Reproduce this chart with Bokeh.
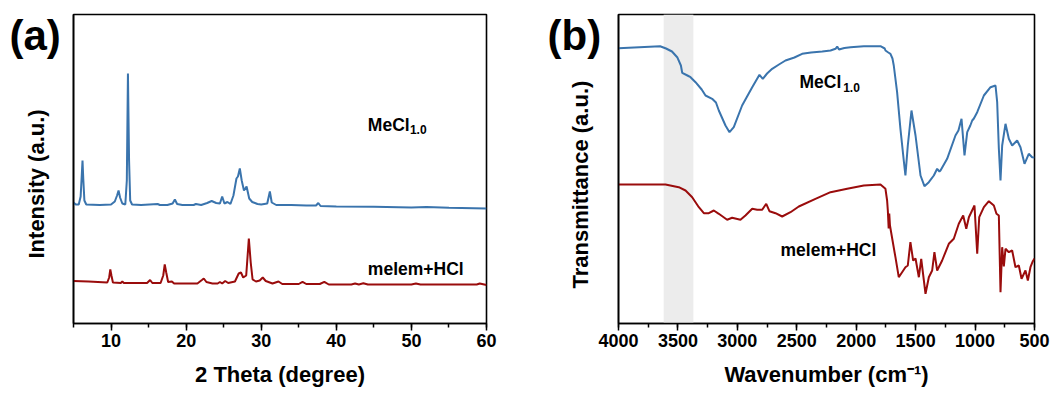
from bokeh.plotting import figure
from bokeh.models import (Range1d, Label, BoxAnnotation, SingleIntervalTicker, FixedTicker, Title)
from bokeh.layouts import row
from bokeh.embed import file_html
from bokeh.resources import INLINE

# ---------------- XRD data (a) ----------------
xrd_mecl_2theta = [5.0, 5.3, 5.7, 5.95, 6.1, 6.2, 6.3, 6.45, 6.7, 8.5, 10.0, 10.5, 10.8, 11.0, 11.2, 11.5,
                   11.9, 12.1, 12.25, 12.4, 12.55, 12.8, 14.0, 16.2, 16.5, 17.5, 18.2, 18.5, 18.8, 19.5,
                   21.0, 21.3, 22.0, 22.8, 23.4, 24.0, 24.5, 24.8, 25.1, 25.5, 25.9, 26.3, 26.7, 26.9,
                   27.15, 27.4, 27.7, 28.05, 28.4, 28.8, 29.5, 30.0, 30.8, 31.15, 31.4, 32.0, 34.0, 36.0,
                   37.3, 37.6, 37.9, 40.0, 45.0, 50.0, 52.0, 55.0, 60.0]
xrd_mecl_int = [121, 119, 119, 127, 148, 163, 145, 123, 119, 118.5, 119, 122, 128, 133, 126, 120,
                119, 143, 250, 163, 123, 119, 118.5, 119.5, 118.5, 118.5, 120, 124, 119.5, 118.5,
                118.5, 119.5, 118.5, 120.5, 122.5, 120.5, 120, 127, 120, 121.5, 119.5, 128, 145, 147,
                155, 143, 133, 137, 125, 121.5, 119.5, 119, 120, 132, 121, 118.5, 118.5, 118,
                118, 120.5, 117.5, 117, 116.7, 116, 116.5, 115.7, 115]

xrd_melem_2theta = [5.0, 7.0, 9.5, 9.75, 9.9, 10.05, 10.25, 11.3, 11.5, 11.7, 14.8, 15.2, 15.5, 16.6,
                    16.95, 17.15, 17.35, 17.6, 18.1, 18.4, 21.5, 22.1, 22.35, 22.7, 23.5, 24.2, 24.5,
                    24.8, 25.2, 25.6, 26.5, 27.0, 27.3, 27.6, 28.0, 28.35, 28.6, 28.85, 29.3, 29.8,
                    30.2, 30.6, 31.5, 32.3, 32.8, 35.0, 35.5, 36.0, 37.8, 38.4, 39.0, 42.0, 42.5, 43.0,
                    43.6, 44.2, 50.0, 50.6, 51.2, 58.7, 59.1, 60.0]
xrd_melem_int = [42.5, 42, 41, 46, 54, 48, 41, 40.5, 42, 40.5, 40.5, 43.5, 40.5, 40.5,
                 48, 59, 51, 41.5, 42, 40, 40, 43.5, 45, 41.5, 40, 40, 41.5,
                 40, 42.5, 40.5, 42, 50, 51, 46, 48, 85, 61, 44, 42, 43,
                 46, 42.5, 40, 42, 39.5, 39.5, 41.7, 39.5, 39.5, 41.7, 39, 39, 40, 39,
                 40.2, 39, 39, 40, 39, 39, 40, 38.5]

# ---------------- FTIR data (b) ----------------
ftir_mecl_wn = [4000, 3650, 3600, 3550, 3506, 3475, 3464, 3420, 3394, 3352, 3300, 3268, 3212, 3180, 3156,
                3100, 3066, 3030, 2960, 2875, 2814, 2786, 2750, 2707, 2650, 2595, 2520, 2455, 2380, 2286,
                2216, 2174, 2160, 2145, 2100, 2048, 1936, 1796, 1760, 1754, 1730, 1712, 1695, 1684, 1656,
                1628, 1600, 1586, 1566, 1535, 1501, 1459, 1426, 1389, 1347, 1319, 1300, 1291, 1235, 1165,
                1140, 1114, 1089, 1066, 1040, 1024, 1010, 982, 926, 870, 828, 814, 800, 786, 772, 744,
                716, 688, 646, 618, 584, 548, 520, 500]
ftir_mecl_t = [275.3, 277.3, 275, 272, 266.3, 258, 250.7, 248, 246.3, 241.3, 234, 228, 224.7, 221, 213,
               198, 191.3, 196.3, 218, 236.3, 248.7, 244.7, 250, 254.7, 259, 263, 266, 269.7, 271, 272,
               273, 274.7, 277, 274, 275.5, 276.3, 277.3, 277.3, 275, 273, 271, 269.7, 265, 258, 231.3,
               194.7, 163, 148, 178, 213, 188, 148, 137.3, 141.3, 148, 154.7, 152, 153, 164.7, 188,
               193, 204.7, 168, 191.3, 198, 203, 205, 211.3, 228, 236.3, 238, 221.3, 175, 143, 178, 199.7,
               184.7, 178, 183, 176.3, 159.7, 169.7, 166.3, 166]

ftir_melem_wn = [4000, 3605, 3493, 3436, 3380, 3324, 3282, 3240, 3198, 3156, 3086, 3044, 2974, 2932, 2875,
                 2833, 2791, 2757, 2730, 2679, 2623, 2553, 2483, 2343, 2216, 2076, 1936, 1796, 1754, 1740,
                 1734, 1727, 1722, 1716, 1706, 1670, 1642, 1614, 1586, 1566, 1544, 1521, 1501, 1473, 1453,
                 1417, 1389, 1361, 1342, 1319, 1277, 1221, 1179, 1137, 1100, 1074, 1052, 1005, 982, 965,
                 926, 884, 842, 820, 800, 786, 772, 758, 744, 716, 688, 660, 632, 609, 576, 556, 534,
                 514, 500]
ftir_melem_t = [139, 139, 136.3, 133, 126.3, 116.3, 110.3, 110.3, 113, 109.7, 103.7, 105.7, 103.7, 108, 114.7,
                113.7, 113.7, 119.7, 112.3, 110.3, 107, 111.3, 117, 124.7, 131.3, 134.7, 138, 139, 134.7, 123,
                113, 95, 110, 98, 91, 66.3, 46.3, 51.3, 56.3, 58, 81.3, 63, 65, 46.3, 64.7,
                29.7, 46.3, 53, 71.3, 53, 63, 79.7, 84.7, 99.7, 108, 94.7, 106.3, 118, 69.7, 106.3,
                116.3, 122.3, 118, 109.7, 108, 31.3, 76.3, 57, 74.7, 71.3, 73, 56.3, 58, 44.7, 53, 43, 56.3,
                62.3, 65]

shade_band = [3620, 3370]

xrd_xlim = (5, 60)
ftir_xlim = (4000, 500)
ylim = (0, 309)

BLUE = "#3a74ad"
RED = "#9a0c0c"
FONT = "Liberation Sans"


def style(p, xlabel, ylabel, ticker, ylab_offset, ylab_standoff):
    p.grid.visible = False
    p.outline_line_color = "black"
    p.outline_line_width = 1.6
    p.outline_line_alpha = 1
    p.background_fill_color = "white"
    p.border_fill_color = "white"
    xa = p.xaxis[0]
    xa.ticker = ticker
    xa.axis_label = xlabel
    xa.axis_label_text_font = FONT
    xa.axis_label_text_font_style = "bold"
    xa.axis_label_text_font_size = "22px"
    xa.axis_label_text_color = "black"
    xa.axis_label_standoff = 12
    xa.major_label_text_font = FONT
    xa.major_label_text_font_style = "bold"
    xa.major_label_text_font_size = "18px"
    xa.major_label_text_color = "black"
    xa.major_label_standoff = 3
    xa.axis_line_width = 1.6
    xa.major_tick_line_width = 1.5
    xa.minor_tick_line_width = 1.5
    xa.major_tick_out = 7
    xa.major_tick_in = 0
    xa.minor_tick_out = 4
    xa.minor_tick_in = 0
    ya = p.yaxis[0]
    ya.ticker = FixedTicker(ticks=[])
    ya.major_tick_out = 0
    ya.major_tick_in = 0
    ya.minor_tick_out = 0
    ya.minor_tick_in = 0
    ya.major_label_standoff = 0
    ya.axis_line_width = 1.6
    # y-axis title, placed slightly below centre as in the original
    p.add_layout(Title(text=ylabel, align="left", offset=ylab_offset, vertical_align="top",
                       standoff=ylab_standoff, text_font=FONT, text_font_style="bold",
                       text_font_size="22px", text_color="black"), "left")


def txt(p, x, y, s, size):
    p.add_layout(Label(x=x, y=y, text=s, text_font=FONT, text_font_style="bold", text_font_size=size,
                       text_color="black", text_baseline="alphabetic", text_align="left"))


def panel_letter(p, s, offset):
    p.add_layout(Title(text=s, align="left", offset=offset, vertical_align="bottom", standoff=-88,
                       text_font=FONT, text_font_style="bold", text_font_size="42px",
                       text_color="black"), "above")


# ---------------- panel (a) ----------------
p1 = figure(width=530, height=395, x_range=Range1d(*xrd_xlim), y_range=Range1d(*ylim),
            output_backend="svg", toolbar_location=None,
            min_border_left=72, min_border_right=44, min_border_top=14, min_border_bottom=72)
style(p1, "2 Theta (degree)", "Intensity (a.u.)", SingleIntervalTicker(interval=10, num_minor_ticks=2), 65, 46)
p1.line(xrd_mecl_2theta, xrd_mecl_int, line_color=BLUE, line_width=2)
p1.line(xrd_melem_2theta, xrd_melem_int, line_color=RED, line_width=2)
txt(p1, 44.2, 199, "MeCl", "17.5px")
txt(p1, 49.8, 194, "1.0", "12px")
txt(p1, 44.2, 55, "melem+HCl", "17.5px")
panel_letter(p1, "(a)", -64)

# ---------------- panel (b) ----------------
p2 = figure(width=520, height=395, x_range=Range1d(*ftir_xlim), y_range=Range1d(*ylim),
            output_backend="svg", toolbar_location=None,
            min_border_left=88, min_border_right=16, min_border_top=14, min_border_bottom=72)
p2.add_layout(BoxAnnotation(left=shade_band[0], right=shade_band[1], fill_color="#ececec", fill_alpha=1,
                            line_color=None, level="underlay"))
style(p2, "Wavenumber (cm\u207b\u00b9)", "Transmittance (a.u.)",
      SingleIntervalTicker(interval=500, num_minor_ticks=2), 35, 48)
p2.line(ftir_mecl_wn, ftir_mecl_t, line_color=BLUE, line_width=2)
p2.line(ftir_melem_wn, ftir_melem_t, line_color=RED, line_width=2)
txt(p2, 2477, 241.3, "MeCl", "17.5px")
txt(p2, 2110, 236, "1.0", "12px")
txt(p2, 2637, 74, "melem+HCl", "17.5px")
panel_letter(p2, "(b)", -71)

layout = row(p1, p2)
open("out.html", "w").write(file_html(layout, INLINE))
